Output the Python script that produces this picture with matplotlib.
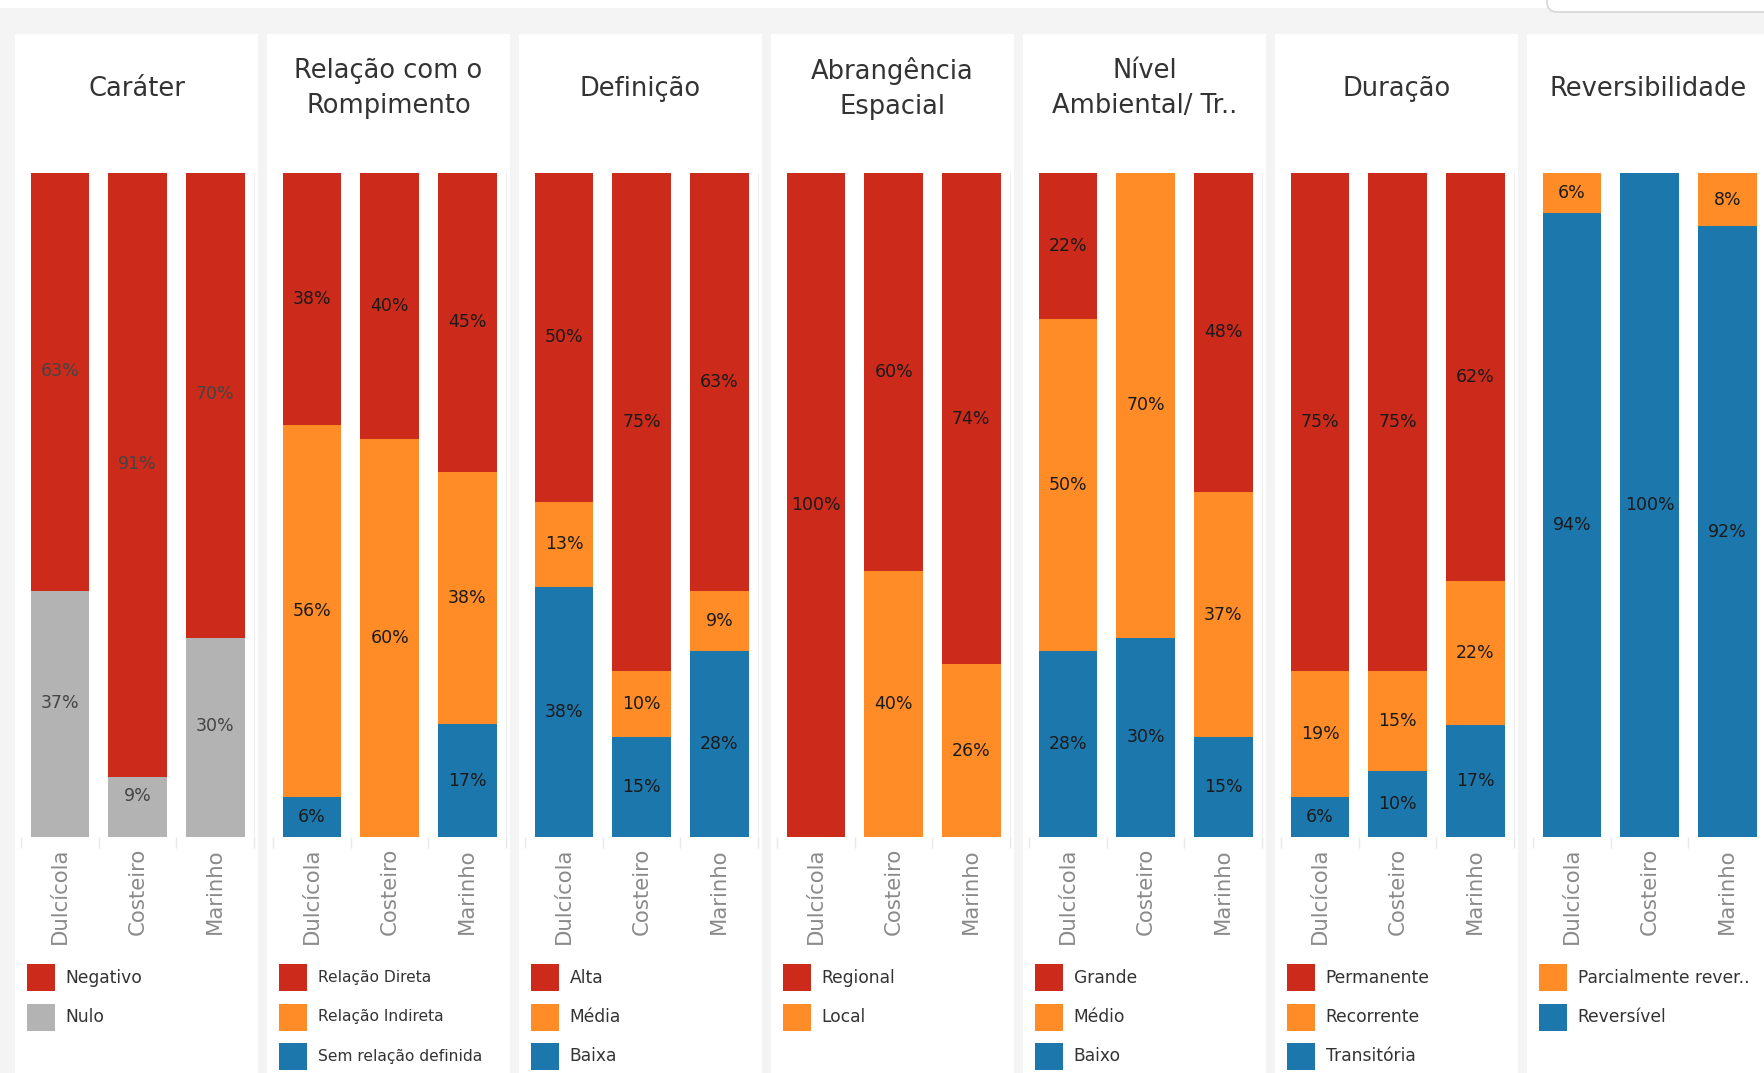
"""Painéis de barras 100% empilhadas por ambiente (Dulcícola, Costeiro, Marinho)."""

import matplotlib
matplotlib.use("Agg")
import matplotlib.pyplot as plt
from matplotlib.patches import Rectangle, FancyBboxPatch

W, H = 1764, 1073

AMBIENTES = ["Dulcícola", "Costeiro", "Marinho"]

TITULOS = [
    "Caráter",
    "Relação com o\nRompimento",
    "Definição",
    "Abrangência\nEspacial",
    "Nível\nAmbiental/ Tr..",
    "Duração",
    "Reversibilidade",
]

# valores em % por categoria (uma lista por categoria, na ordem dos ambientes)
carater_cats = ["Negativo", "Nulo"]
carater_vals = [[63, 91, 70], [37, 9, 30]]

relacao_cats = ["Relação Direta", "Relação Indireta", "Sem relação definida"]
relacao_vals = [[38, 40, 45], [56, 60, 38], [6, 0, 17]]

definicao_cats = ["Alta", "Média", "Baixa"]
definicao_vals = [[50, 75, 63], [13, 10, 9], [38, 15, 28]]

abrangencia_cats = ["Regional", "Local"]
abrangencia_vals = [[100, 60, 74], [0, 40, 26]]

nivel_cats = ["Grande", "Médio", "Baixo"]
nivel_vals = [[22, 0, 48], [50, 70, 37], [28, 30, 15]]

duracao_cats = ["Permanente", "Recorrente", "Transitória"]
duracao_vals = [[75, 75, 62], [19, 15, 22], [6, 10, 17]]

reversib_cats = ["Parcialmente rever..", "Reversível"]
reversib_vals = [[6, 0, 8], [94, 100, 92]]

VERMELHO = "#CC2A1A"
LARANJA = "#FF8C26"
AZUL = "#1C77AC"
CINZA = "#B3B3B3"


def fx(x):
    return x / W


def fy(y):
    return 1 - y / H


def main() -> None:
    paineis = [
        (carater_cats, carater_vals, [VERMELHO, CINZA]),
        (relacao_cats, relacao_vals, [VERMELHO, LARANJA, AZUL]),
        (definicao_cats, definicao_vals, [VERMELHO, LARANJA, AZUL]),
        (abrangencia_cats, abrangencia_vals, [VERMELHO, LARANJA]),
        (nivel_cats, nivel_vals, [VERMELHO, LARANJA, AZUL]),
        (duracao_cats, duracao_vals, [VERMELHO, LARANJA, AZUL]),
        (reversib_cats, reversib_vals, [LARANJA, AZUL]),
    ]

    plt.rcParams["font.family"] = ["DejaVu Sans"]
    fig = plt.figure(figsize=(W / 100, H / 100), dpi=100, facecolor="#f4f4f4")

    # faixa branca no topo e caixa arredondada no canto
    fig.patches.append(Rectangle((0, fy(8)), 1, 8 / H, transform=fig.transFigure,
                                 facecolor="white", edgecolor="none", zorder=-2))
    fig.patches.append(FancyBboxPatch((15.47, 10.61), 3.0, 0.6,
                                      boxstyle="round,pad=0,rounding_size=0.1",
                                      transform=fig.dpi_scale_trans,
                                      facecolor="white", edgecolor="#d6d6d6",
                                      linewidth=1.2, zorder=-1))

    for i, (titulo, (cats, vals, cores)) in enumerate(zip(TITULOS, paineis)):
        left = 15 + 252 * i
        fig.patches.append(Rectangle((fx(left), 0), 243 / W, fy(34),
                                     transform=fig.transFigure,
                                     facecolor="white", edgecolor="none", zorder=-2))
        fig.text(fx(left + 121.5), fy(88.5), titulo, ha="center", va="center",
                 fontsize=18.5, color="#333333", linespacing=1.42)

        ax = fig.add_axes([fx(left + 6.2), fy(837), 232.9 / W, 664 / H])
        ax.set_facecolor("none")
        for lado in ("top", "left", "bottom"):
            ax.spines[lado].set_visible(False)
        ax.spines["right"].set_color("#efefef")

        # empilha de cima para baixo: primeira categoria no topo
        totais = [sum(v[j] for v in vals) for j in range(3)]
        topo = [1.0, 1.0, 1.0]
        carater = i == 0
        for cat_vals, cor in zip(vals, cores):
            for j, v in enumerate(cat_vals):
                if v == 0:
                    continue
                h = v / totais[j]
                base = topo[j] - h
                ax.bar(j, h, bottom=base, width=0.754, color=cor, linewidth=0)
                ax.annotate(f"{v}%", (j, base + h / 2),
                            xytext=(0, 8 if carater else 0), textcoords="offset points",
                            ha="center", va="center", fontsize=12.5,
                            color="#444444" if carater else "#1a1a1a")
                topo[j] = base

        ax.set_xlim(-0.5, 2.5)
        ax.set_ylim(0, 1)
        ax.set_yticks([])
        ax.set_xticks([0, 1, 2], AMBIENTES, rotation=90, fontsize=15.3, color="#8a8a8a")
        ax.set_xticks([-0.5, 0.5, 1.5, 2.5], minor=True)
        ax.tick_params(axis="x", which="major", length=0, pad=8)
        ax.tick_params(axis="x", which="minor", length=8, color="#e8e8e8", width=1)

        fs = 11.2 if i == 1 else 12.3
        for k, (cat, cor) in enumerate(zip(cats, cores)):
            cy = 977.6 + 39.4 * k
            fig.patches.append(Rectangle((fx(left + 12.4), fy(cy + 13.5)), 28 / W, 27 / H,
                                         transform=fig.transFigure,
                                         facecolor=cor, edgecolor="none", zorder=2))
            fig.text(fx(left + 50.6), fy(cy), cat, ha="left", va="center",
                     fontsize=fs, color="#333333")

    fig.savefig("out.png", dpi=100, facecolor=fig.get_facecolor())


if __name__ == "__main__":
    main()
